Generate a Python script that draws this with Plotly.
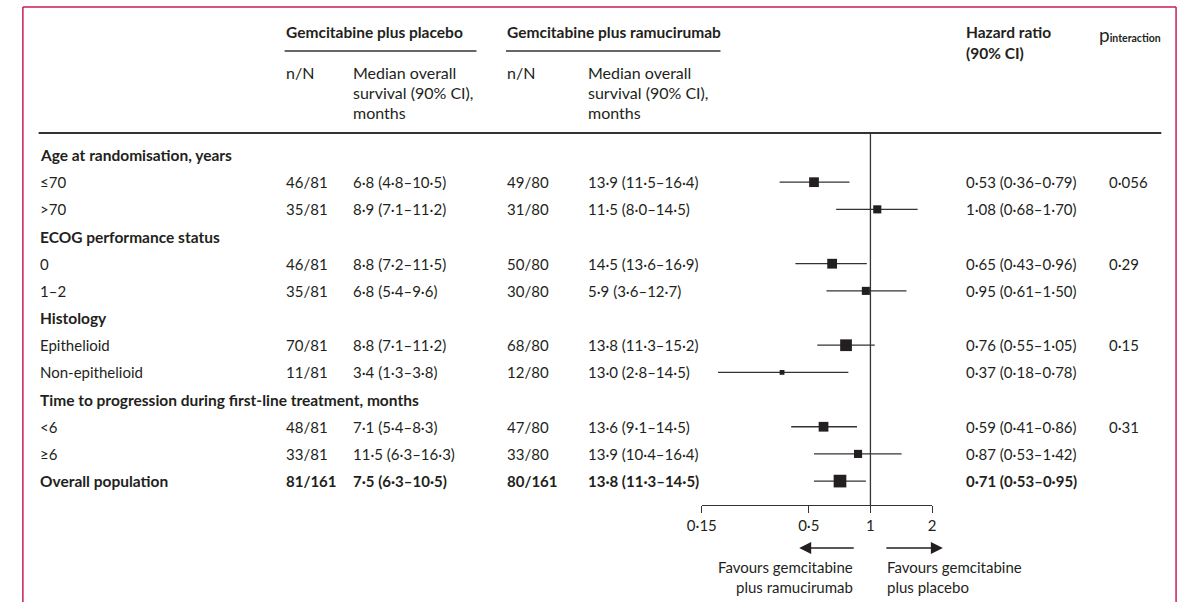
import math
import plotly.graph_objects as go

# ---------------- data ----------------
row_labels = ["Age at randomisation, years", "≤70", ">70",
              "ECOG performance status", "0", "1–2",
              "Histology", "Epithelioid", "Non-epithelioid",
              "Time to progression during first-line treatment, months", "<6", "≥6",
              "Overall population"]
heading_rows = ["Age at randomisation, years", "ECOG performance status", "Histology",
                "Time to progression during first-line treatment, months"]
total_row = "Overall population"

subgroups = ["≤70", ">70", "0", "1–2", "Epithelioid", "Non-epithelioid", "<6", "≥6", "Overall population"]
placebo_n = [46, 35, 46, 35, 70, 11, 48, 33, 81]
placebo_N = [81, 81, 81, 81, 81, 81, 81, 81, 161]
placebo_os = [6.8, 8.9, 8.8, 6.8, 8.8, 3.4, 7.1, 11.5, 7.5]
placebo_os_lo = [4.8, 7.1, 7.2, 5.4, 7.1, 1.3, 5.4, 6.3, 6.3]
placebo_os_hi = [10.5, 11.2, 11.5, 9.6, 11.2, 3.8, 8.3, 16.3, 10.5]
ramu_n = [49, 31, 50, 30, 68, 12, 47, 33, 80]
ramu_N = [80, 80, 80, 80, 80, 80, 80, 80, 161]
ramu_os = [13.9, 11.5, 14.5, 5.9, 13.8, 13.0, 13.6, 13.9, 13.8]
ramu_os_lo = [11.5, 8.0, 13.6, 3.6, 11.3, 2.8, 9.1, 10.4, 11.3]
ramu_os_hi = [16.4, 14.5, 16.9, 12.7, 15.2, 14.5, 14.5, 16.4, 14.5]
hr = [0.53, 1.08, 0.65, 0.95, 0.76, 0.37, 0.59, 0.87, 0.71]
hr_lo = [0.36, 0.68, 0.43, 0.61, 0.55, 0.18, 0.41, 0.53, 0.53]
hr_hi = [0.79, 1.70, 0.96, 1.50, 1.05, 0.78, 0.86, 1.42, 0.95]
p_interaction = ["0·056", "", "0·29", "", "0·15", "", "0·31", "", ""]

tick_vals = [0.15, 0.5, 1, 2]
tick_text = ["0·15", "0·5", "1", "2"]

# ---------------- styling ----------------
W, H = 1184, 602
FONT = "Lato"
TXT = "#231f20"
BORDER = "#c81f52"
FS = 15


def fx(x):
    return x / W


def fy(y):
    return 1 - y / H


def dot(v, nd):
    return f"{v:.{nd}f}".replace(".", "·")


row_index = {lab: i for i, lab in enumerate(row_labels)}
data_y = [row_index[s] for s in subgroups]

fig = go.Figure()

# confidence intervals
xs, ys = [], []
for lo, hi, y in zip(hr_lo, hr_hi, data_y):
    xs += [lo, hi, None]
    ys += [y, y, None]
fig.add_trace(go.Scatter(x=xs, y=ys, mode="lines", line=dict(color="#333333", width=1.3),
                         hoverinfo="skip", cliponaxis=False))

# point estimates, square size ~ sqrt(total events)
sizes = [math.sqrt(a + b) for a, b in zip(placebo_n, ramu_n)]
fig.add_trace(go.Scatter(x=hr, y=data_y, mode="markers",
                         marker=dict(symbol="square", size=sizes, color=TXT, opacity=1,
                                     line=dict(width=0)),
                         cliponaxis=False))

annotations = []


def text(x, y, s, yref="paper", bold=False, size=FS, anchor="left"):
    if bold:
        s = f"<b>{s}</b>"
    annotations.append(dict(x=x, y=y, xref="paper", yref=yref, text=s, showarrow=False,
                            xanchor=anchor, yanchor="middle", borderpad=0,
                            font=dict(family=FONT, size=size, color=TXT)))


# column headers
text(fx(274), fy(32), "Gemcitabine plus placebo", bold=True, size=15.5)
text(fx(499), fy(32), "Gemcitabine plus ramucirumab", bold=True, size=15.5)
for cx in (274, 499):
    text(fx(cx), fy(72), "n/N", size=16)
for cx in (343, 581):
    for yy, line in zip((72, 92, 112), ("Median overall", "survival (90% CI),", "months")):
        text(fx(cx), fy(yy), line, size=16)
text(fx(966), fy(32), "Hazard ratio", bold=True, size=15.5)
text(fx(966), fy(53), "(90% CI)", bold=True, size=15.5)
annotations.append(dict(x=fx(1101), y=fy(35), xref="paper", yref="paper", showarrow=False,
                        xanchor="left", yanchor="middle", borderpad=0,
                        text="p<span style='font-size:10.5px'><b>interaction</b></span>",
                        font=dict(family=FONT, size=19, color=TXT)))

# row labels
for lab in row_labels:
    bold = lab in heading_rows or lab == total_row
    text(fx(24), row_index[lab], lab, yref="y", bold=bold, size=15.5 if bold else FS)

# table columns
for i, s in enumerate(subgroups):
    y = data_y[i]
    b = s == total_row
    text(fx(274), y, f"{placebo_n[i]}/{placebo_N[i]}", yref="y", bold=b)
    text(fx(343), y, f"{dot(placebo_os[i],1)} ({dot(placebo_os_lo[i],1)}–{dot(placebo_os_hi[i],1)})",
         yref="y", bold=b)
    text(fx(499), y, f"{ramu_n[i]}/{ramu_N[i]}", yref="y", bold=b)
    text(fx(581), y, f"{dot(ramu_os[i],1)} ({dot(ramu_os_lo[i],1)}–{dot(ramu_os_hi[i],1)})",
         yref="y", bold=b)
    text(fx(966), y, f"{dot(hr[i],2)} ({dot(hr_lo[i],2)}–{dot(hr_hi[i],2)})", yref="y", bold=b)
    if p_interaction[i]:
        text(fx(1111), y, p_interaction[i], yref="y", bold=b)

# favours arrows
for tip, tail in ((797, 853), (943, 885)):
    annotations.append(dict(x=fx(tip), y=fy(548), xref="paper", yref="paper", text="",
                            showarrow=True, ax=tail - tip, ay=0, arrowhead=2, arrowsize=1.6,
                            arrowwidth=1.5, arrowcolor=TXT, standoff=0, startstandoff=0))
text(fx(853), fy(567), "Favours gemcitabine", anchor="right")
text(fx(853), fy(587), "plus ramucirumab", anchor="right")
text(fx(885), fy(567), "Favours gemcitabine")
text(fx(885), fy(587), "plus placebo")

shapes = [
    # frame
    dict(type="line", xref="paper", yref="paper", x0=fx(8), x1=fx(8), y0=fy(7), y1=fy(610),
         line=dict(color=BORDER, width=1.5)),
    dict(type="line", xref="paper", yref="paper", x0=fx(8), x1=fx(1180), y0=fy(7), y1=fy(7),
         line=dict(color=BORDER, width=1.5)),
    dict(type="line", xref="paper", yref="paper", x0=fx(1180), x1=fx(1180), y0=fy(7), y1=fy(610),
         line=dict(color=BORDER, width=1.5)),
    # header rules
    dict(type="line", xref="paper", yref="paper", x0=fx(274), x1=fx(469), y0=fy(51), y1=fy(51),
         line=dict(color="#333333", width=1.3)),
    dict(type="line", xref="paper", yref="paper", x0=fx(499), x1=fx(717), y0=fy(51), y1=fy(51),
         line=dict(color="#333333", width=1.3)),
    dict(type="line", xref="paper", yref="paper", x0=fx(24), x1=fx(1165), y0=fy(133), y1=fy(133),
         line=dict(color="#333333", width=2)),
    # line of no effect
    dict(type="line", xref="x", yref="paper", x0=1, x1=1, y0=fy(505), y1=fy(133),
         line=dict(color="#333333", width=1.3)),
]

fig.update_layout(
    width=W, height=H, margin=dict(l=0, r=0, t=0, b=0),
    paper_bgcolor="white", plot_bgcolor="rgba(0,0,0,0)", showlegend=False,
    xaxis=dict(type="log", domain=[fx(698), fx(932)],
               range=[math.log10(0.15), math.log10(2)],
               showline=True, linecolor="#333333", linewidth=1.3, mirror=False,
               ticks="outside", ticklen=7, tickwidth=1.3, tickcolor="#333333",
               tickvals=tick_vals, ticktext=tick_text, showgrid=False, zeroline=False,
               tickfont=dict(family=FONT, size=FS, color=TXT), fixedrange=True),
    yaxis=dict(domain=[fy(505), fy(133)], range=[12.88, -0.81], visible=False,
               showgrid=False, zeroline=False, fixedrange=True),
    annotations=annotations, shapes=shapes,
    font=dict(family=FONT, color=TXT),
)

fig.write_html("out.html", config={"displayModeBar": False},
               post_script="document.body.style.margin='0';document.body.style.overflow='hidden';")
